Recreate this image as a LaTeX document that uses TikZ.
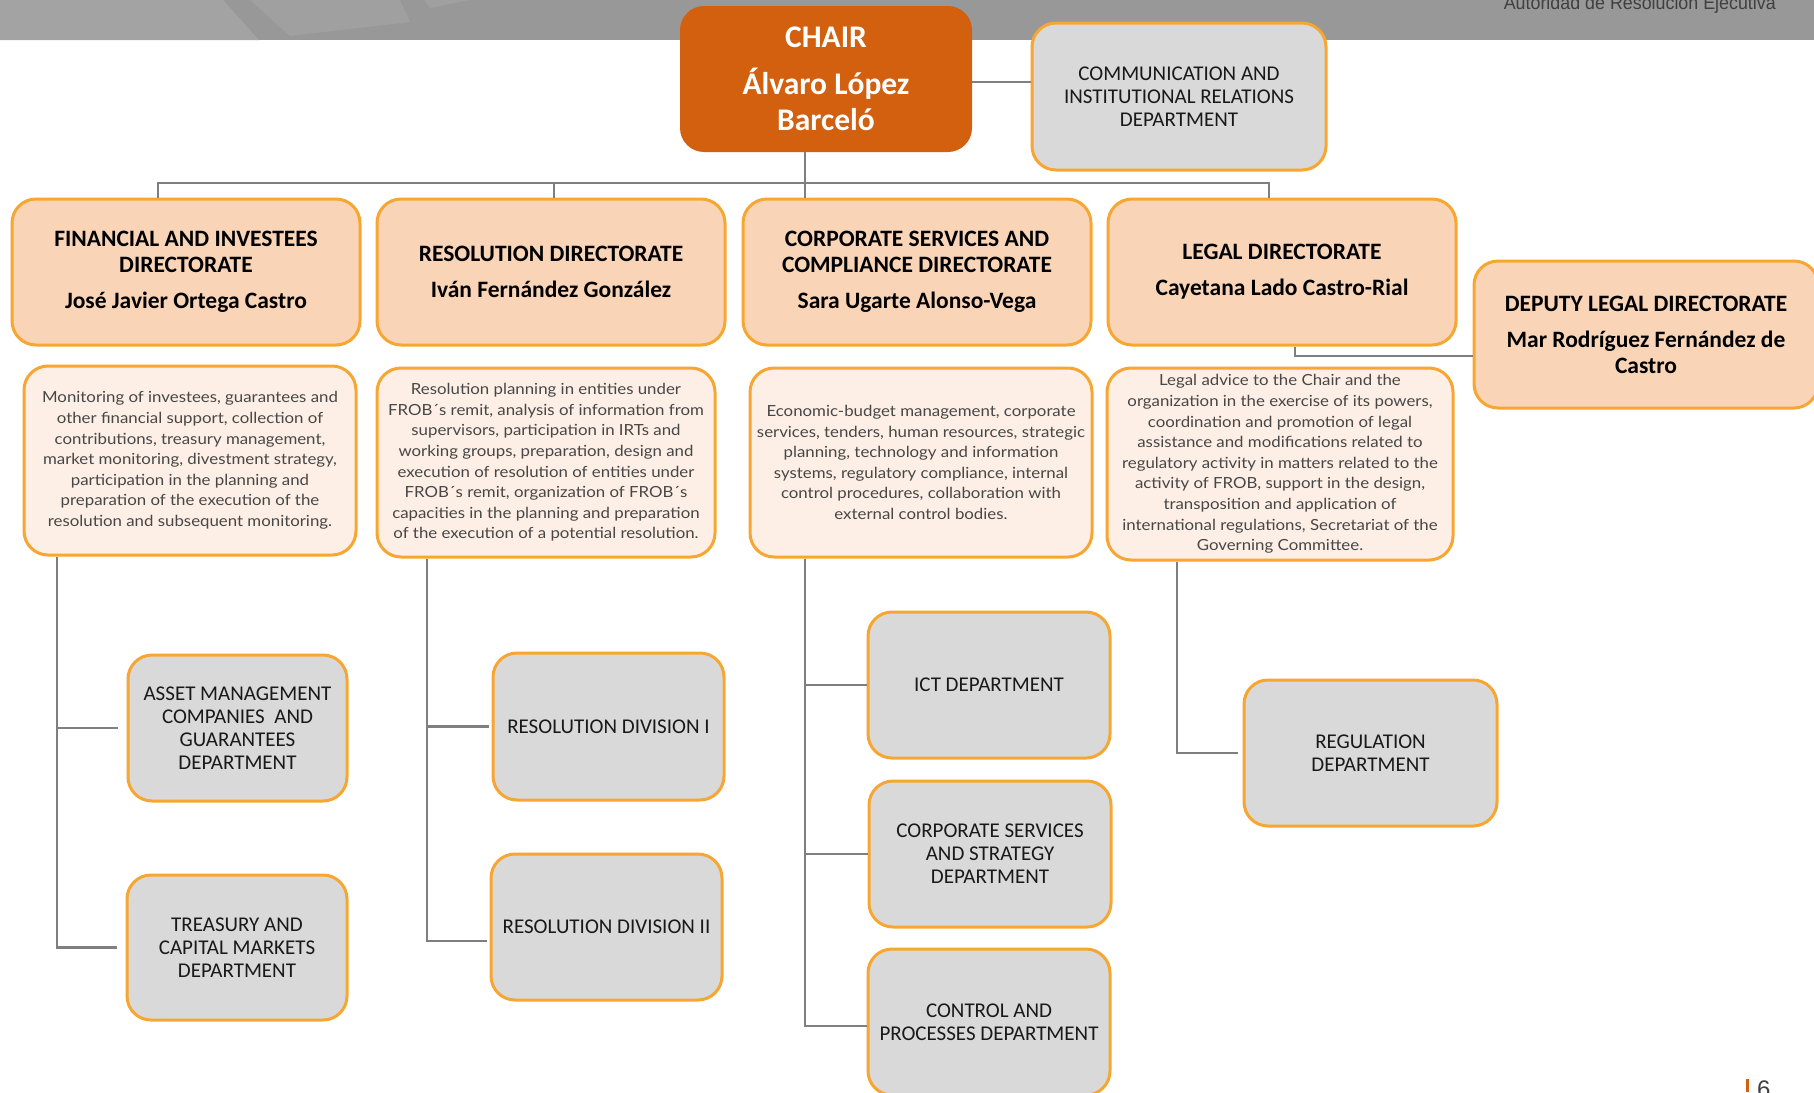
\documentclass[tikz,border=0pt]{standalone}
\usepackage{fontspec}
\setmainfont{Carlito}
\newfontfamily\descfont{Lato}[FakeStretch=1.1]
\newfontfamily\hdrfont{Liberation Sans}
\definecolor{chairor}{HTML}{D2600E}
\definecolor{bord}{HTML}{F7A631}
\definecolor{dirfill}{HTML}{F9D4B7}
\definecolor{descfill}{HTML}{FDEFE5}
\definecolor{deptfill}{HTML}{D9D9D9}
\definecolor{linegray}{HTML}{7F7F7F}
\definecolor{band}{HTML}{989898}
\definecolor{bandlight}{HTML}{A3A3A3}
\definecolor{bandmid}{HTML}{A0A0A0}
\definecolor{txtgray}{HTML}{404040}
\definecolor{desctxt}{HTML}{474747}
\begin{document}
\begin{tikzpicture}[x=1pt,y=-1pt,
  base/.style={rectangle, rounded corners=24pt, align=center, inner sep=0pt},
  chairbox/.style={base, fill=chairor, text=white, font=\bfseries\fontsize{31.5}{36}\selectfont},
  dirbox/.style={base, draw=bord, line width=3pt, fill=dirfill, font=\bfseries\fontsize{23.5}{26}\selectfont, minimum width=348pt, minimum height=146pt},
  descbox/.style={base, draw=bord, line width=3pt, fill=descfill, text=desctxt, font=\descfont\fontsize{15.3}{20.6}\selectfont},
  deptbox/.style={base, draw=bord, line width=3pt, fill=deptfill, text=black!90, font=\fontsize{21}{23}\selectfont},
  conn/.style={draw=linegray, line width=2.2pt},
]
\clip (0,0) rectangle (1814,1092);
\fill[white] (0,0) rectangle (1814,1092);
% top band
\fill[band] (0,0) rectangle (1814,40);
\fill[bandlight] (0,0) -- (223,0) -- (259,40) -- (0,40) -- cycle;
\fill[bandmid] (250,0) -- (290,36) -- (410,22) -- (400,0) -- cycle;
\fill[bandmid] (424,0) -- (430,8) -- (469,0) -- cycle;
\node[anchor=base east, inner sep=0pt, font=\hdrfont\fontsize{19}{19}\selectfont, text=txtgray, xscale=0.94] (hdr) at (1776,9.5) {Autoridad de Resolución Ejecutiva};

% chair and communication
\node[chairbox, minimum width=292pt, minimum height=146pt] (chair) at (826,79) {CHAIR\\[11pt]Álvaro López\\Barceló};
\node[deptbox, minimum width=294pt, minimum height=147pt] (comm) at (1179,96.5) {COMMUNICATION AND\\INSTITUTIONAL RELATIONS\\DEPARTMENT};

% directorates
\node[dirbox] (dir1) at (186,272) {FINANCIAL AND INVESTEES\\DIRECTORATE\\[10pt]José Javier Ortega Castro};
\node[dirbox] (dir2) at (551,272) {RESOLUTION DIRECTORATE\\[10pt]Iván Fernández González};
\node[dirbox] (dir3) at (917,272) {CORPORATE SERVICES AND\\COMPLIANCE DIRECTORATE\\[10pt]Sara Ugarte Alonso-Vega};
\node[dirbox] (dir4) at (1282,272) {LEGAL DIRECTORATE\\[10pt]Cayetana Lado Castro-Rial};
\node[dirbox, minimum width=344pt, minimum height=147pt] (deputy) at (1646,334.5) {DEPUTY LEGAL DIRECTORATE\\[10pt]Mar Rodríguez Fernández de\\Castro};

% descriptions
\node[descbox, minimum width=332pt, minimum height=189pt] (d1) at (190,460.5) {Monitoring of investees, guarantees and\\other financial support, collection of\\contributions, treasury management,\\market monitoring, divestment strategy,\\participation in the planning and\\preparation of the execution of the\\resolution and subsequent monitoring.};
\node[descbox, minimum width=338pt, minimum height=189pt] (d2) at (546,462.5) {Resolution planning in entities under\\FROB´s remit, analysis of information from\\supervisors, participation in IRTs and\\working groups, preparation, design and\\execution of resolution of entities under\\FROB´s remit, organization of FROB´s\\capacities in the planning and preparation\\of the execution of a potential resolution.};
\node[descbox, minimum width=342pt, minimum height=189pt] (d3) at (921,462.5) {Economic-budget management, corporate\\services, tenders, human resources, strategic\\planning, technology and information\\systems, regulatory compliance, internal\\control procedures, collaboration with\\external control bodies.};
\node[descbox, minimum width=346pt, minimum height=192pt] (d4) at (1280,464) {Legal advice to the Chair and the\\organization in the exercise of its powers,\\coordination and promotion of legal\\assistance and modifications related to\\regulatory activity in matters related to the\\activity of FROB, support in the design,\\transposition and application of\\international regulations, Secretariat of the\\Governing Committee.};

% departments
\node[deptbox, minimum width=219pt, minimum height=146pt] (asset) at (237.5,728) {ASSET MANAGEMENT\\COMPANIES\ \ AND\\GUARANTEES\\DEPARTMENT};
\node[deptbox, minimum width=220pt, minimum height=145pt] (treas) at (237,947.5) {TREASURY AND\\CAPITAL MARKETS\\DEPARTMENT};
\node[deptbox, minimum width=231pt, minimum height=147pt] (res1) at (608.5,726.5) {RESOLUTION DIVISION I};
\node[deptbox, minimum width=231pt, minimum height=146pt] (res2) at (606.5,927) {RESOLUTION DIVISION II};
\node[deptbox, minimum width=242pt, minimum height=146pt] (ict) at (989,685) {ICT DEPARTMENT};
\node[deptbox, minimum width=242pt, minimum height=146pt] (css) at (990,854) {CORPORATE SERVICES\\AND STRATEGY\\DEPARTMENT};
\node[deptbox, minimum width=242pt, minimum height=146pt] (ctrl) at (989,1022) {CONTROL AND\\PROCESSES DEPARTMENT};
\node[deptbox, minimum width=253pt, minimum height=146pt] (reg) at (1370.5,753) {REGULATION\\DEPARTMENT};

% connector helper coordinates
\coordinate (b1) at (158,183);
\coordinate (b2) at (554,183);
\coordinate (b3) at (805,183);
\coordinate (b4) at (1269,183);
\coordinate (c1) at (57,0);
\coordinate (c2) at (427,0);
\coordinate (c3) at (805,0);
\coordinate (c4) at (1177,0);
\coordinate (dx) at (1295,0);

% top connectors
\draw[conn] ([yshift=-3pt]chair.east) -- ([yshift=-3pt]chair.east -| comm.west);
\draw[conn] (dir1.north -| b1) -- (b1) -- (b4) -- (dir4.north -| b4);
\draw[conn] (dir2.north -| b2) -- (b2);
\draw[conn] (chair.south -| b3) -- (dir3.north -| b3);
\draw[conn] (dir4.south -| dx) |- ([yshift=-21.5pt]deputy.west);

% column connectors
\draw[conn, shorten >=9pt] (d1.south -| c1) |- (asset.west);
\draw[conn, shorten >=9pt] (d1.south -| c1) |- (treas.west);
\draw[conn, shorten >=3pt] (d2.south -| c2) |- (res1.west);
\draw[conn, shorten >=3pt] (d2.south -| c2) |- ([yshift=-14pt]res2.west);
\draw[conn] (d3.south -| c3) |- (ict.west);
\draw[conn] (d3.south -| c3) |- (css.west);
\draw[conn] (d3.south -| c3) |- ([yshift=-4pt]ctrl.west);
\draw[conn, shorten >=5pt] (d4.south -| c4) |- (reg.west);

% page number
\fill[chairor] (1746,1079) rectangle (1749,1092);
\node[anchor=north west, inner sep=0pt, font=\hdrfont\fontsize{24}{24}\selectfont, text=txtgray] (pg) at (1757,1081) {6};
\end{tikzpicture}
\end{document}
